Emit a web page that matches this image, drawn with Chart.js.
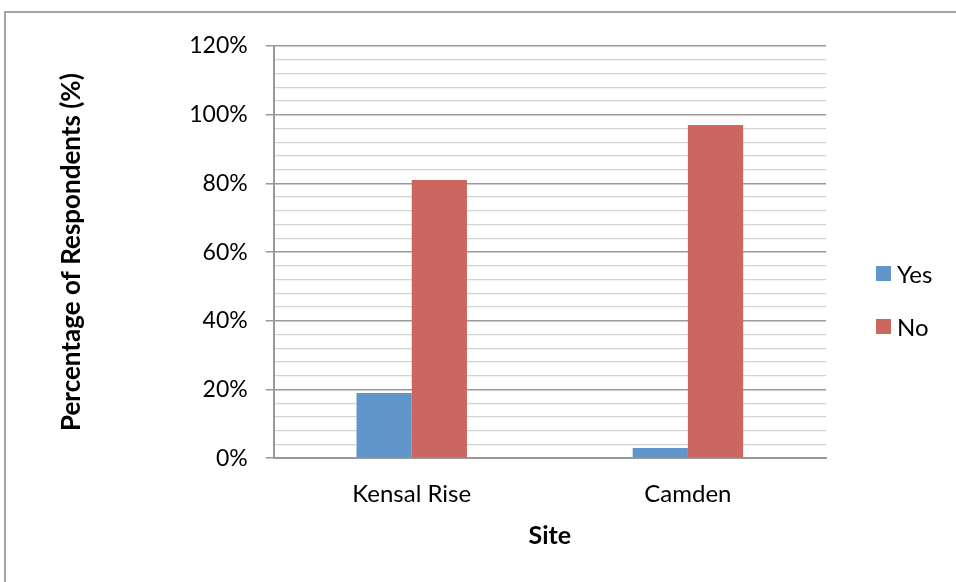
<!DOCTYPE html>
<html>
<head>
<meta charset="utf-8">
<script src="https://cdn.jsdelivr.net/npm/chart.js@4/dist/chart.umd.min.js"></script>
<style>
  html, body { margin: 0; padding: 0; background: #fff; overflow: hidden; }
  #wrap { position: relative; width: 956px; height: 582px; }
  #frame { position: absolute; left: 4px; top: 11px; width: 2000px; height: 2000px;
           border-left: 2px solid #a3a3a3; border-top: 2px solid #a3a3a3; box-sizing: border-box; }
  #c { position: absolute; left: 0; top: 0; }
</style>
</head>
<body>
<div id="wrap">
  <div id="frame"></div>
  <canvas id="c" width="956" height="582"></canvas>
</div>
<script>
const categories = ['Kensal Rise', 'Camden'];
const seriesNames = ['Yes', 'No'];
const yesValues = [19, 3];
const noValues = [81, 97];
const seriesColors = ['#6096C9', '#CC6660'];
const yTickLabels = ['0%', '20%', '40%', '60%', '80%', '100%', '120%'];
const xTitle = 'Site';
const yTitle = 'Percentage of Respondents (%)';

const FONT = 'Lato';
const LABEL_SIZE = 24;
const YTICK_SIZE = 23;
const TITLE_SIZE = 25;
const YTITLE_SIZE = 26;

const customLegend = {
  id: 'customLegend',
  afterDraw(chart) {
    const ctx = chart.ctx;
    const area = chart.chartArea;
    ctx.save();
    ctx.font = LABEL_SIZE + 'px ' + FONT;
    ctx.textBaseline = 'middle';
    ctx.textAlign = 'left';
    chart.data.datasets.forEach((ds, i) => {
      const bx = area.right + 50;
      const by = 266 + i * 53;
      ctx.fillStyle = ds.backgroundColor;
      ctx.fillRect(bx, by, 15, 15);
      ctx.fillStyle = '#000';
      ctx.fillText(ds.label, bx + 21, by + 9);
    });
    ctx.restore();
  }
};

new Chart(document.getElementById('c'), {
  type: 'bar',
  data: {
    labels: categories,
    datasets: [
      { label: seriesNames[0], data: yesValues, backgroundColor: seriesColors[0] },
      { label: seriesNames[1], data: noValues, backgroundColor: seriesColors[1] }
    ]
  },
  options: {
    responsive: false,
    animation: false,
    events: [],
    layout: { padding: { top: 46, bottom: 31, left: 20, right: 130 } },
    datasets: { bar: { categoryPercentage: 0.4, barPercentage: 1.0, borderWidth: 0 } },
    plugins: { legend: { display: false }, tooltip: { enabled: false } },
    scales: {
      x: {
        grid: { display: false, drawTicks: false },
        border: { display: true, color: '#999999', width: 2 },
        ticks: { color: '#000', font: { family: FONT, size: LABEL_SIZE }, padding: 22 },
        title: { display: true, text: xTitle, color: '#000',
                 font: { family: FONT, size: TITLE_SIZE, weight: 'bold' }, padding: { top: -10, bottom: 0 } }
      },
      y: {
        min: 0, max: 120,
        border: { display: true, color: '#999999', width: 2 },
        grid: {
          color: (c) => (c.tick && c.tick.value % 20 === 0) ? '#9a9a9a' : '#d3d3d3',
          lineWidth: (c) => (c.tick && c.tick.value % 20 === 0) ? 1.5 : 1.3,
          tickColor: (c) => (c.tick && c.tick.value % 20 === 0) ? '#9a9a9a' : 'rgba(0,0,0,0)',
          tickLength: 8,
          drawTicks: true
        },
        ticks: {
          stepSize: 4,
          autoSkip: false,
          color: '#000',
          padding: 18,
          font: { family: FONT, size: YTICK_SIZE },
          callback: (v) => (v % 20 === 0) ? yTickLabels[v / 20] : ''
        },
        title: { display: true, text: yTitle, color: '#000',
                 font: { family: FONT, size: YTITLE_SIZE, weight: 'bold' }, padding: { top: 36, bottom: 84 } }
      }
    }
  },
  plugins: [customLegend]
});
</script>
</body>
</html>
